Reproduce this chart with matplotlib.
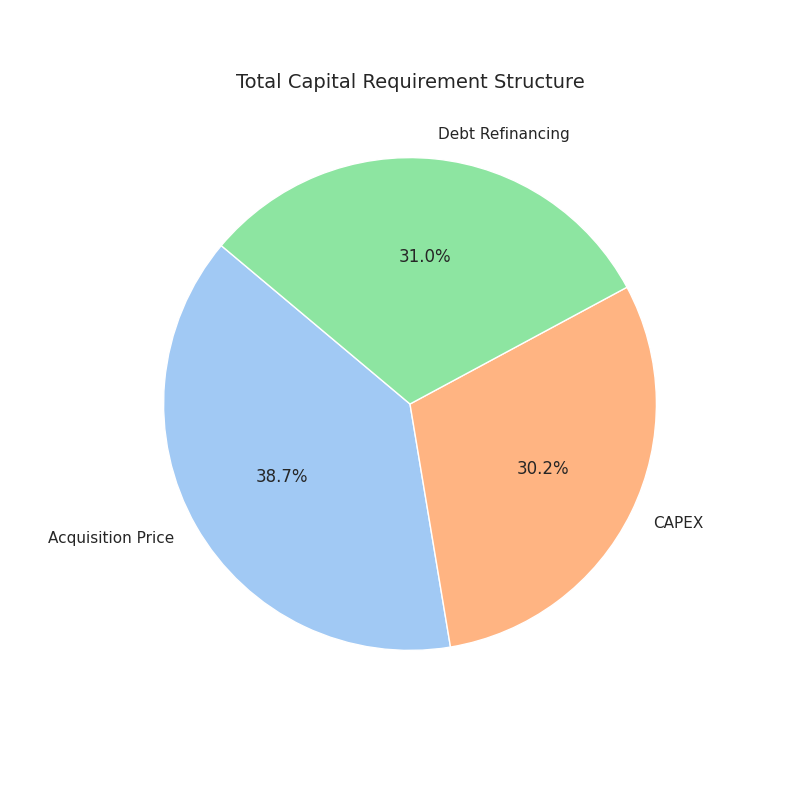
import matplotlib
matplotlib.use('Agg')
import matplotlib.pyplot as plt
import seaborn as sns

sns.set_theme(style='whitegrid')

labels = ['Acquisition Price', 'CAPEX', 'Debt Refinancing']
shares = [38.7, 30.2, 31.0]

colors = sns.color_palette('pastel')[0:3]

fig, ax = plt.subplots(figsize=(8, 8), dpi=100)
ax.pie(shares, labels=labels, colors=colors, autopct='%1.1f%%', startangle=140,
       wedgeprops={'edgecolor': 'white'}, textprops={'fontsize': 11})
for t in ax.texts:
    if t.get_text().endswith('%'):
        t.set_fontsize(12)
ax.set_title('Total Capital Requirement Structure', fontsize=14)
plt.savefig('out.png')
